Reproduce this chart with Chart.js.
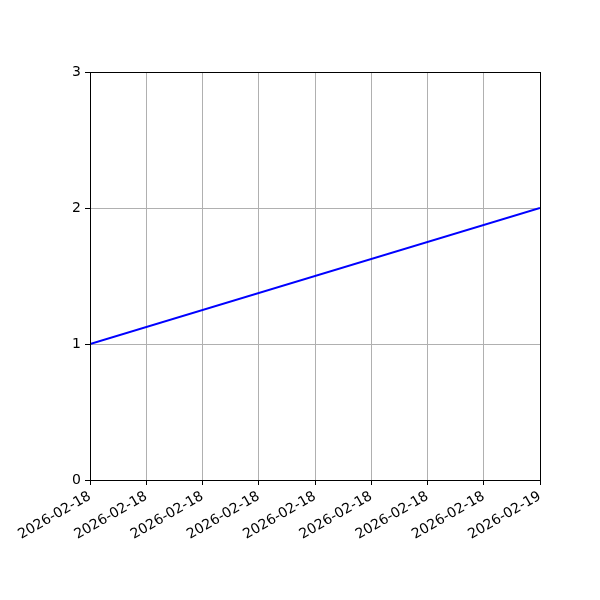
<!DOCTYPE html>
<html>
<head>
<meta charset="utf-8">
<script src="https://cdn.jsdelivr.net/npm/chart.js@4"></script>
<style>
html,body{margin:0;padding:0;background:#fff;}
#wrap{width:600px;height:600px;}
</style>
</head>
<body>
<div id="wrap"><canvas id="c" width="600" height="600"></canvas></div>
<script>
// Data (hours since 2026-02-18 00:00)
const xHours = [0, 24];
const yValues = [1, 2];
const xTickLabels = ["2026-02-18","2026-02-18","2026-02-18","2026-02-18","2026-02-18","2026-02-18","2026-02-18","2026-02-18","2026-02-19"];
const yTickLabels = ["0","1","2","3"];

const points = xHours.map((x, i) => ({x: x, y: yValues[i]}));

const frame = {
  id: 'frame',
  afterDraw(chart) {
    const {ctx, chartArea: a} = chart;
    ctx.save();
    ctx.strokeStyle = '#000';
    ctx.lineWidth = 1;
    ctx.strokeRect(Math.round(a.left) + 0.5, Math.round(a.top) + 0.5, Math.round(a.right - a.left), Math.round(a.bottom - a.top));
    ctx.restore();
  }
};

new Chart(document.getElementById('c'), {
  type: 'line',
  data: {
    datasets: [{
      data: points,
      borderColor: '#0000ff',
      borderWidth: 2,
      pointRadius: 0,
      tension: 0,
      fill: false
    }]
  },
  options: {
    responsive: false,
    animation: false,
    devicePixelRatio: 1,
    layout: {padding: {top: 72, right: 60, left: 0, bottom: 0}},
    plugins: {legend: {display: false}, tooltip: {enabled: false}},
    scales: {
      x: {
        type: 'linear',
        min: 0, max: 24,
        afterFit(s) { s.height = 120; },
        afterBuildTicks(s) { s.ticks = xTickLabels.map((_, i) => ({value: i * 3})); },
        ticks: {
          autoSkip: false,
          maxRotation: 30, minRotation: 30,
          color: '#000',
          font: {family: 'DejaVu Sans', size: 14},
          padding: 3,
          callback: (v, i) => xTickLabels[i]
        },
        grid: {color: '#b0b0b0', lineWidth: 1, tickColor: '#000', tickLength: 5, drawTicks: true},
        border: {color: '#000', width: 1}
      },
      y: {
        type: 'linear',
        min: 0, max: 3,
        afterFit(s) { s.width = 90; },
        afterBuildTicks(s) { s.ticks = yTickLabels.map((_, i) => ({value: i})); },
        ticks: {
          color: '#000',
          font: {family: 'DejaVu Sans', size: 14},
          padding: 4,
          callback: (v, i) => yTickLabels[i]
        },
        grid: {color: '#b0b0b0', lineWidth: 1, tickColor: '#000', tickLength: 5, drawTicks: true},
        border: {color: '#000', width: 1}
      }
    }
  },
  plugins: [frame]
});
</script>
</body>
</html>
